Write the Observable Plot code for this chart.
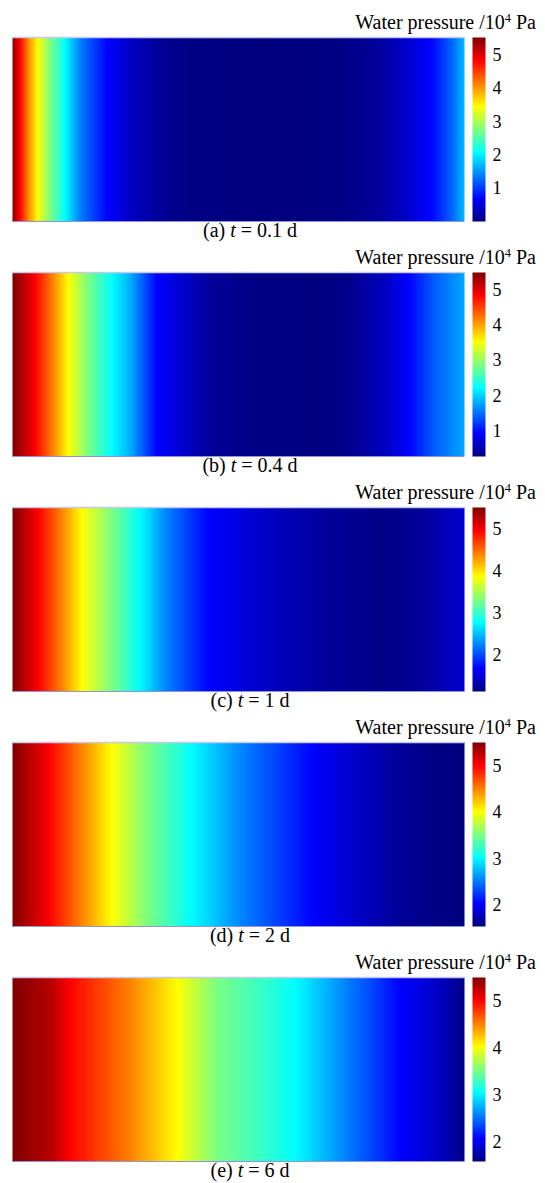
<!DOCTYPE html>
<html><head><meta charset="utf-8">
<script src="https://cdn.jsdelivr.net/npm/d3@7"></script>
<script src="https://cdn.jsdelivr.net/npm/@observablehq/plot@0.6"></script>
<style>
body{margin:0;background:#fff;}
#fig{position:relative;width:545px;height:1183px;font-family:"Liberation Serif","Times New Roman",serif;color:#000;overflow:hidden;}
.title{position:absolute;right:9px;font-size:20px;line-height:1;white-space:nowrap;}
.title sup{font-size:0.62em;vertical-align:0.55em;line-height:0;}
.cap{position:absolute;width:300px;text-align:center;font-size:20px;line-height:1;white-space:nowrap;}
.hm,.cb{position:absolute;}
</style></head><body><div id="fig"></div>
<script>
// Panel labels and times
const panelLabels = ["(a)", "(b)", "(c)", "(d)", "(e)"];
const panelTimes = ["0.1", "0.4", "1", "2", "6"];

// Horizontal position (% of domain length) and water pressure (10^4 Pa)
const posA = [0, 1.8, 3.5, 5.8, 8.4, 11.7, 15.0, 21.0, 26.8, 34.3, 41.6, 54.9, 70.4, 77.0, 82.1, 88.0, 93.1, 96.9, 100];
const valA = [5.5, 4.8, 4.1, 3.4, 2.75, 2.06, 1.38, 0.69, 0.34, 0.08, 0.03, 0.0, 0.02, 0.08, 0.2, 0.45, 0.75, 1.2, 1.7];

const posB = [0, 5.0, 8.8, 12.3, 16.5, 21.9, 25.8, 31.9, 43.4, 54.9, 66.6, 74.2, 81.9, 88.1, 93.4, 100];
const valB = [5.5, 4.85, 4.2, 3.55, 2.9, 2.25, 1.86, 0.95, 0.43, 0.32, 0.3, 0.35, 0.6, 0.98, 1.42, 1.8];

const posC = [0, 5.8, 10.8, 15.4, 21.9, 28.1, 34.2, 43.4, 58.8, 70.4, 81.9, 90.3, 95.8, 100];
const valC = [5.53, 4.98, 4.43, 3.88, 3.33, 2.79, 2.24, 1.69, 1.40, 1.25, 1.18, 1.25, 1.38, 1.5];

const posD = [0, 8.1, 15.0, 21.9, 29.6, 39.6, 51.1, 66.6, 78.1, 85.8, 93.4, 100];
const valD = [5.5, 5.01, 4.52, 4.02, 3.53, 3.03, 2.54, 2.04, 1.79, 1.65, 1.58, 1.55];

const posE = [0, 5.0, 8.8, 12.7, 25.8, 36.5, 44.9, 62.6, 74.2, 85.8, 93.4, 100];
const valE = [5.51, 5.38, 5.28, 5.02, 4.53, 4.04, 3.55, 3.06, 2.57, 2.08, 1.88, 1.63];

// Colour bar extents and ticks
const colorMin = [0.0, 0.29, 1.14, 1.55, 1.59];
const colorMax = [5.54, 5.49, 5.53, 5.50, 5.51];
const colorTicks = [1, 2, 3, 4, 5];

// Jet colormap stops
const jetColors = ["#00007f", "#0000ff", "#007fff", "#00ffff", "#7fff7f", "#ffff00", "#ff7f00", "#ff0000", "#7f0000"];

const positions = [posA, posB, posC, posD, posE];
const values = [valA, valB, valC, valD, valE];

const fig = document.getElementById("fig");
const PITCH = 235;
const FONT = '"Liberation Serif","Times New Roman",serif';

function colorScale(i) {
  const lo = colorMin[i], hi = colorMax[i];
  return {
    type: "linear",
    domain: jetColors.map((_, k) => lo + (hi - lo) * k / (jetColors.length - 1)),
    range: jetColors,
    interpolate: "rgb",
    clamp: true
  };
}

for (let i = 0; i < 5; i++) {
  const T = i * PITCH;

  const title = document.createElement("div");
  title.className = "title";
  title.style.top = (T + 12) + "px";
  title.innerHTML = "Water pressure /10<sup>4</sup> Pa";
  fig.appendChild(title);

  // heatmap data: each profile value at bottom and top edge of the domain
  const data = [];
  positions[i].forEach((p, k) => {
    data.push({x: p, y: 0, v: values[i][k]});
    data.push({x: p, y: 1, v: values[i][k]});
  });

  const hm = Plot.plot({
    width: 452, height: 186,
    marginTop: 1, marginBottom: 1, marginLeft: 0, marginRight: 0,
    x: {domain: [0, 100], axis: null},
    y: {domain: [0, 1], axis: null},
    color: colorScale(i),
    style: {background: "transparent", overflow: "visible"},
    marks: [
      Plot.raster(data, {x: "x", y: "y", fill: "v", interpolate: "barycentric", x1: 0, x2: 100, y1: 0, y2: 1}),
      Plot.ruleY([1], {stroke: "#c6cae6", strokeWidth: 1.5}),
      Plot.ruleY([0], {stroke: "#8f96d6", strokeWidth: 1})
    ]
  });
  hm.classList.add("hm");
  hm.style.left = "12px";
  hm.style.top = (T + 36) + "px";
  fig.appendChild(hm);

  const lo = colorMin[i], hi = colorMax[i];
  const cb = Plot.plot({
    width: 73, height: 204,
    marginTop: 10, marginBottom: 10, marginLeft: 0, marginRight: 60,
    x: {domain: [0, 1], axis: null},
    y: {domain: [lo, hi], axis: null},
    color: colorScale(i),
    style: {background: "transparent", overflow: "visible", fontFamily: FONT, fontSize: "18px", color: "#000"},
    marks: [
      Plot.raster({x1: 0, x2: 1, y1: lo, y2: hi, fill: (x, y) => y, width: 1, height: 184}),
      Plot.axisY({anchor: "right", ticks: colorTicks.filter(t => t >= lo && t <= hi), tickSize: 0, tickPadding: 7,
        label: null, tickFormat: d3.format("d"), fontSize: 18, fill: "#000"})
    ]
  });
  cb.querySelectorAll("text").forEach(t => { t.style.fontFamily = FONT; t.style.fontSize = "18px"; t.style.fontVariant = "normal"; });
  cb.classList.add("cb");
  cb.style.left = "472px";
  cb.style.top = (T + 27) + "px";
  fig.appendChild(cb);

  const cap = document.createElement("div");
  cap.className = "cap";
  cap.style.top = (T + 220) + "px";
  cap.style.left = (250 - 150) + "px";
  cap.innerHTML = panelLabels[i] + " <i>t</i> = " + panelTimes[i] + " d";
  fig.appendChild(cap);
}
</script></body></html>
